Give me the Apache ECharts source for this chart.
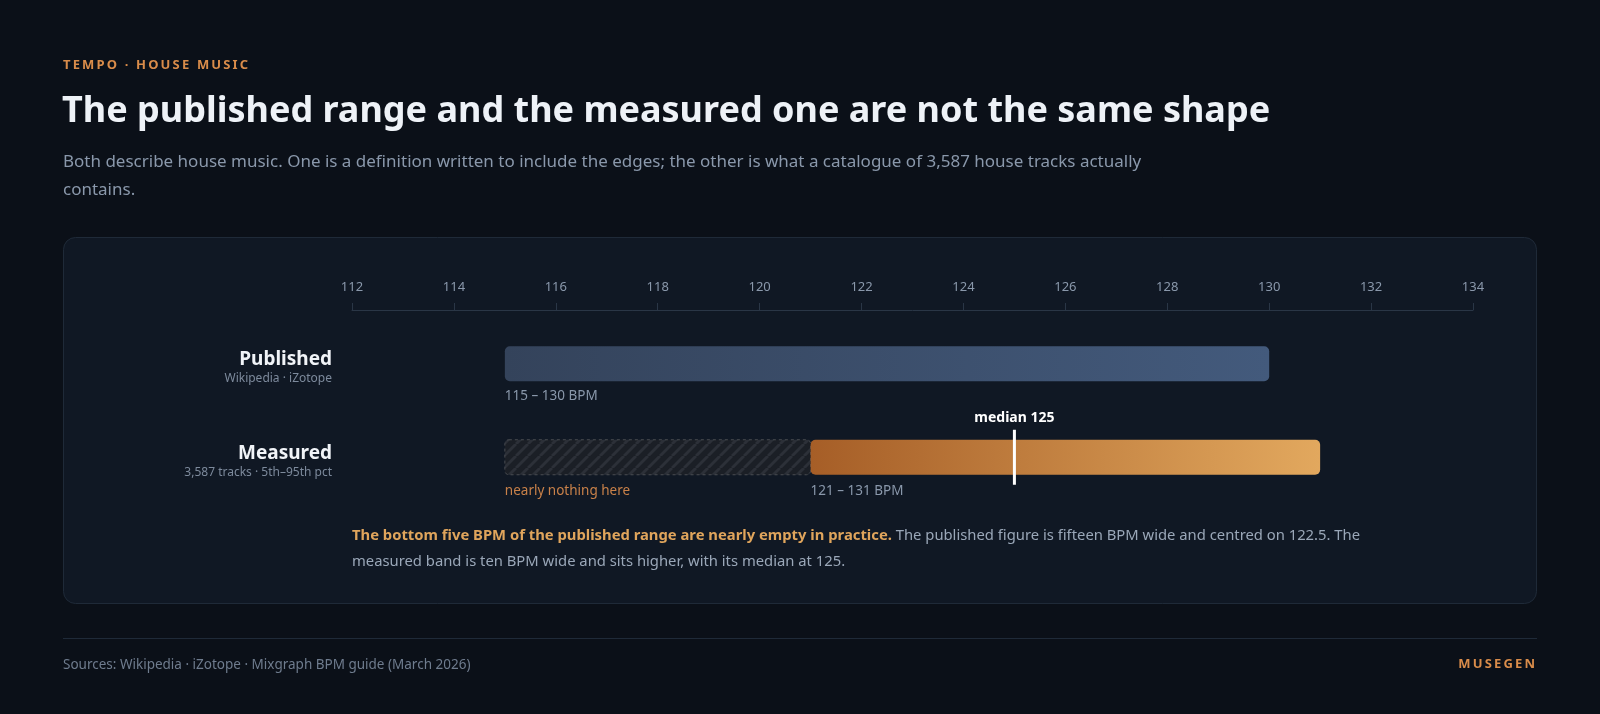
<!DOCTYPE html>
<html><head><meta charset="utf-8">
<script src="https://cdn.jsdelivr.net/npm/echarts@6/dist/echarts.min.js"></script>
<style>html,body{margin:0;background:#0b1018;}#c{width:1600px;height:714px;}</style>
</head><body><div id="c"></div>
<script>
// data
var rows = ['Published', 'Measured'];
var rowNotes = ['Wikipedia · iZotope', '3,587 tracks · 5th–95th pct'];
var publishedRange = [115, 130];
var emptyRange = [115, 121];
var measuredRange = [121, 131];
var median = 125;
var axisMin = 112, axisMax = 134, axisStep = 2;

var FONT = '"Noto Sans", "Open Sans", sans-serif';
var chart = echarts.init(document.getElementById('c'));

// spread letters, zrender has no letter-spacing
function spaced(s) { return s.split('').join('\u2009'); }

// stripe pattern for the empty part
var pat = document.createElement('canvas');
pat.width = 12; pat.height = 12;
var px = pat.getContext('2d');
px.fillStyle = '#1b1f26'; px.fillRect(0, 0, 12, 12);
px.strokeStyle = '#2c3038'; px.lineWidth = 3;
for (var k = -12; k <= 24; k += 12) {
  px.beginPath(); px.moveTo(k, 12); px.lineTo(k + 12, 0); px.stroke();
}

function barItem(params, api) {
  var row = api.value(0), a = api.value(1), b = api.value(2), kind = api.value(3);
  var p0 = api.coord([a, row]), p1 = api.coord([b, row]);
  var h = 35, y = p0[1] - h / 2;
  var kids = [];
  if (kind === 0) {
    kids.push({ type: 'rect', shape: { x: p0[0], y: y, width: p1[0] - p0[0], height: h, r: 5 },
      style: { fill: new echarts.graphic.LinearGradient(0, 0, 1, 0, [{ offset: 0, color: '#34435b' }, { offset: 1, color: '#435a7c' }]) } });
    kids.push({ type: 'text', style: { x: p0[0], y: y + h + 15, text: a + ' – ' + b + ' BPM', fill: '#8a98ab', font: '13.5px ' + FONT, verticalAlign: 'middle' } });
  } else if (kind === 1) {
    kids.push({ type: 'rect', shape: { x: p0[0], y: y, width: p1[0] - p0[0], height: h, r: 4 },
      style: { fill: { image: pat, repeat: 'repeat' }, stroke: '#4a4d52', lineWidth: 1, lineDash: [3, 3] } });
    kids.push({ type: 'text', style: { x: p0[0], y: y + h + 16, text: 'nearly nothing here', fill: '#c98149', font: '13.5px ' + FONT, verticalAlign: 'middle' } });
  } else {
    kids.push({ type: 'rect', shape: { x: p0[0], y: y, width: p1[0] - p0[0], height: h, r: 5 },
      style: { fill: new echarts.graphic.LinearGradient(0, 0, 1, 0, [{ offset: 0, color: '#a65e27' }, { offset: 1, color: '#e2a85e' }]) } });
    kids.push({ type: 'text', style: { x: p0[0], y: y + h + 16, text: a + ' – ' + b + ' BPM', fill: '#8a98ab', font: '13.5px ' + FONT, verticalAlign: 'middle' } });
    var m = api.coord([median, row]);
    kids.push({ type: 'rect', shape: { x: m[0] - 1.5, y: y - 10, width: 3, height: h + 20 }, style: { fill: '#ffffff' } });
    kids.push({ type: 'text', style: { x: m[0], y: y - 22, text: 'median ' + median, fill: '#ffffff', font: 'bold 14px ' + FONT, align: 'center', verticalAlign: 'middle' } });
  }
  return { type: 'group', children: kids };
}

chart.setOption({
  backgroundColor: '#0b1018',
  animation: false,
  grid: { left: 352, right: 127, top: 317, height: 187 },
  xAxis: {
    type: 'value', position: 'top', min: axisMin, max: axisMax, interval: axisStep, offset: 7,
    axisLine: { show: true, lineStyle: { color: '#2a3646' } },
    axisTick: { show: true, length: 7, lineStyle: { color: '#2a3646' } },
    splitLine: { show: false },
    axisLabel: { color: '#8a98ab', fontSize: 13, fontFamily: FONT, margin: 16 }
  },
  yAxis: {
    type: 'category', data: rows, inverse: true,
    axisLine: { show: false }, axisTick: { show: false },
    axisLabel: {
      margin: 20, align: 'right',
      formatter: function (v, i) { return '{n|' + v + '}\n{s|' + rowNotes[i] + '}'; },
      rich: {
        n: { color: '#f1f4f8', fontSize: 19, fontWeight: 'bold', fontFamily: FONT, lineHeight: 30, align: 'right', padding: [22, 0, 0, 0] },
        s: { color: '#7d8a9c', fontSize: 12, fontFamily: FONT, lineHeight: 30, align: 'right' }
      }
    }
  },
  series: [{
    type: 'custom', renderItem: barItem, encode: { x: [1, 2], y: 0 },
    data: [
      [0, publishedRange[0], publishedRange[1], 0],
      [1, emptyRange[0], emptyRange[1], 1],
      [1, measuredRange[0], measuredRange[1], 2]
    ]
  }],
  graphic: [
    { type: 'rect', z: -10, shape: { x: 63.5, y: 237.5, width: 1473, height: 366, r: 12 }, style: { fill: '#101824', stroke: '#1f2a38', lineWidth: 1 } },
    { type: 'text', left: 63, top: 59, style: { text: spaced('TEMPO · HOUSE MUSIC'), fill: '#d98c4a', font: 'bold 13px ' + FONT } },
    { type: 'text', left: 62, top: 94, style: { text: 'The published range and the measured one are not the same shape', fill: '#eef2f7', font: 'bold 36px ' + FONT } },
    { type: 'text', left: 63, top: 148, style: { text: 'Both describe house music. One is a definition written to include the edges; the other is what a catalogue of 3,587 house tracks actually\ncontains.', fill: '#8a98ab', font: '17px ' + FONT, lineHeight: 28 } },
    { type: 'text', left: 352, top: 523, style: {
      text: '{b|The bottom five BPM of the published range are nearly empty in practice.} The published figure is fifteen BPM wide and centred on 122.5. The\nmeasured band is ten BPM wide and sits higher, with its median at 125.',
      fill: '#9aa7b8', font: '14.8px ' + FONT, lineHeight: 26,
      rich: { b: { fill: '#e0a55c', fontWeight: 'bold', fontSize: 14.8, fontFamily: FONT } }
    } },
    { type: 'rect', shape: { x: 63, y: 638, width: 1474, height: 1 }, style: { fill: '#1f2a38' } },
    { type: 'text', left: 63, top: 658, style: { text: 'Sources: Wikipedia · iZotope · Mixgraph BPM guide (March 2026)', fill: '#6f7c8e', font: '13.5px ' + FONT } },
    { type: 'text', right: 65, top: 658, style: { text: spaced('MUSEGEN'), fill: '#d98c4a', font: 'bold 13px ' + FONT } }
  ]
});
</script></body></html>
